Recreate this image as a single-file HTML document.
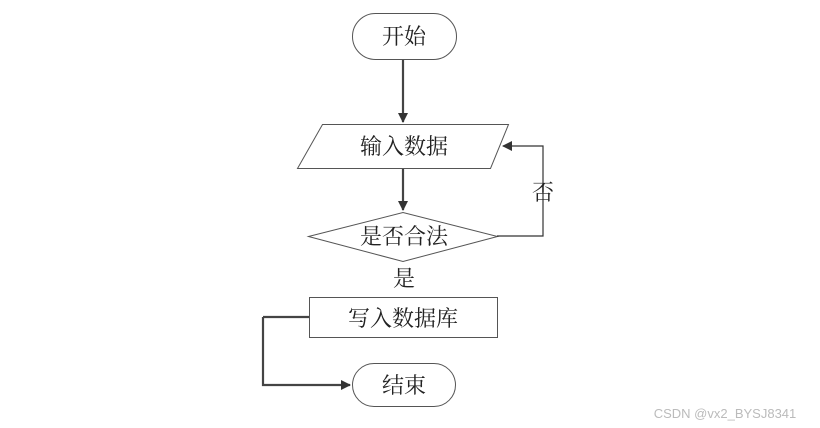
<!DOCTYPE html>
<html><head><meta charset="utf-8"><style>
html,body{margin:0;padding:0;background:#fff;}
svg{display:block;}
text{font-family:"Liberation Serif","Noto Serif CJK SC","Noto Sans CJK SC",serif;fill:#222;}
</style></head><body>
<svg width="820" height="428" viewBox="0 0 820 428" xmlns="http://www.w3.org/2000/svg">
<defs>
<marker id="a" markerWidth="10" markerHeight="10" refX="9" refY="5" orient="auto" markerUnits="userSpaceOnUse">
<path d="M0,0 L10,5 L0,10 Z" fill="#333"/></marker>
</defs>
<g fill="none" stroke="#555" stroke-width="1">
<rect x="352.5" y="13.5" width="104" height="46" rx="23"/>
<polygon points="322.5,124.5 508.5,124.5 490.5,168.5 297.5,168.5"/>
<polygon points="308.5,236.5 403,212.5 497.5,236.5 403,261.5"/>
<rect x="309.5" y="297.5" width="188" height="40"/>
<rect x="352.5" y="363.5" width="103" height="43" rx="21.5"/>
</g>
<g fill="none" stroke="#444" stroke-width="2.2">
<line x1="403" y1="60" x2="403" y2="122" marker-end="url(#a)"/>
<line x1="403" y1="169" x2="403" y2="210" marker-end="url(#a)"/>
<polyline points="263,317 263,385 350,385" marker-end="url(#a)"/>
<line x1="309" y1="317" x2="263" y2="317"/>
</g>
<polyline points="497,236 543,236 543,146 503,146" fill="none" stroke="#333" stroke-width="1.2" marker-end="url(#a)"/>
<g font-size="22" text-anchor="middle">
<text x="404" y="44">开始</text>
<text x="404" y="154">输入数据</text>
<text x="404" y="244">是否合法</text>
<text x="404" y="286">是</text>
<text x="543" y="200">否</text>
<text x="403" y="326">写入数据库</text>
<text x="404" y="393">结束</text>
</g>
<text x="725" y="418" font-size="13" text-anchor="middle" style="font-family:'Liberation Sans',sans-serif;fill:#bbb">CSDN @vx2_BYSJ8341</text>
</svg>
</body></html>
